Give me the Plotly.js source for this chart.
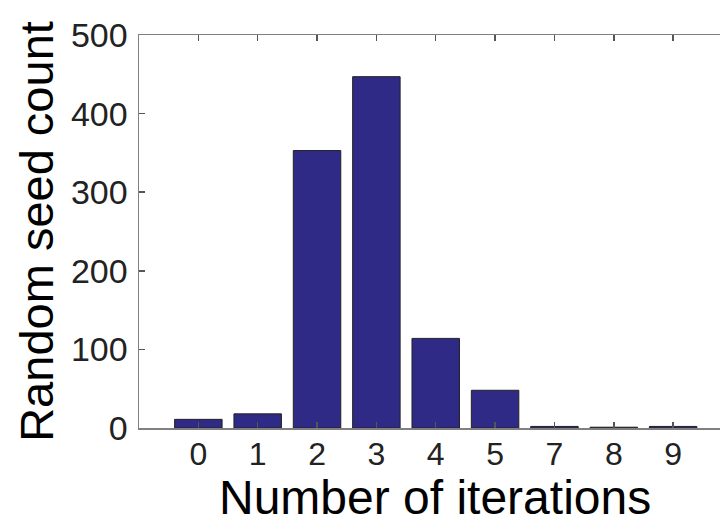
<!DOCTYPE html>
<html>
<head>
<meta charset="utf-8">
<script src="https://cdn.plot.ly/plotly-3.0.1.min.js"></script>
<style>html,body{margin:0;padding:0;background:#fff;}#chart{width:721px;height:516px;}</style>
</head>
<body>
<div id="chart"></div>
<script>
const categories = ['0', '1', '2', '3', '4', '5', '7', '8', '9'];
const seedCounts = [11, 18, 353, 447, 114, 48, 2, 1, 2];
const yTicks = [0, 100, 200, 300, 400, 500];
const xTitle = 'Number of iterations';
const yTitle = 'Random seed count';

const trace = {
  type: 'bar',
  x: categories,
  y: seedCounts,
  width: 0.8,
  marker: { color: '#2f2a85', line: { color: '#222222', width: 1 } },
  hoverinfo: 'x+y'
};

const layout = {
  width: 721, height: 516,
  margin: { l: 139, r: 1, t: 35, b: 88, pad: 0 },
  paper_bgcolor: '#ffffff', plot_bgcolor: '#ffffff',
  showlegend: false,
  font: { family: 'Liberation Sans, Arial, sans-serif', color: '#222222' },
  xaxis: {
    type: 'category',
    range: [-1, 8.79],
    showgrid: false, zeroline: false,
    showline: true, linecolor: '#808080', linewidth: 1.5,
    mirror: 'ticks',
    ticks: 'inside', ticklen: 6, tickwidth: 1.5, tickcolor: '#555555',
    tickfont: { size: 32, color: '#222222' },
    ticklabelstandoff: -3
  },
  yaxis: {
    range: [0, 500],
    tickvals: yTicks,
    ticktext: yTicks.map(String),
    showgrid: false, zeroline: false,
    showline: true, linecolor: '#808080', linewidth: 1.5,
    ticks: 'inside', ticklen: 6, tickwidth: 1.5, tickcolor: '#555555',
    tickfont: { size: 34, color: '#222222' },
    ticklabelstandoff: 3,
    title: { text: yTitle, font: { size: 47, color: '#000000' }, standoff: 2 }
  },
  annotations: [{
    text: xTitle, xref: 'paper', yref: 'paper',
    x: 0.51, y: -0.176, xanchor: 'center', yanchor: 'middle',
    showarrow: false, font: { size: 48, color: '#000000' }
  }]
};

Plotly.newPlot('chart', [trace], layout, { displayModeBar: false, staticPlot: true });
</script>
</body>
</html>
